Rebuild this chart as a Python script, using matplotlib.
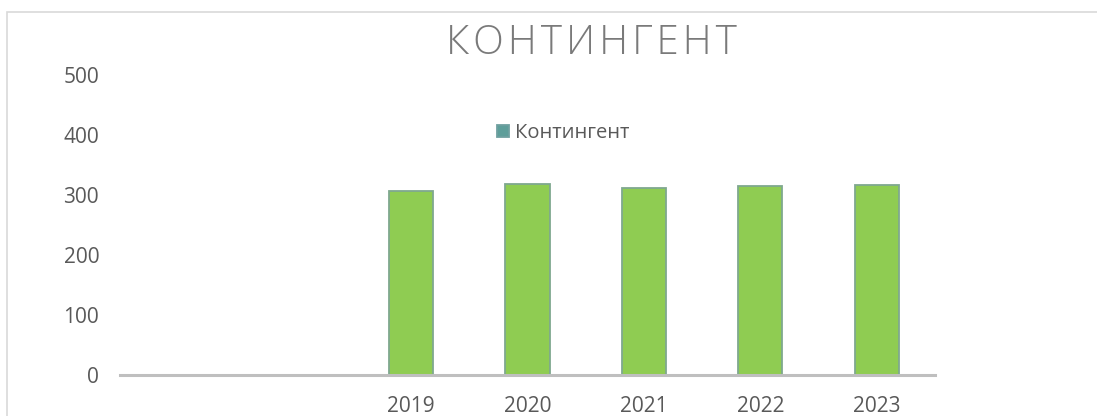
import matplotlib.pyplot as plt
from matplotlib.patches import Rectangle

plt.rcParams['font.family'] = ['Open Sans', 'DejaVu Sans']

# categories (first two are empty in the source chart)
years = ['', '', '2019', '2020', '2021', '2022', '2023']
values = [0, 0, 307, 319, 312, 315, 317]
title = 'КОНТИНГЕНТ'

fig = plt.figure(figsize=(10.97, 4.16), dpi=100)
ax = fig.add_axes([120 / 1097, 41 / 416, 815 / 1097, 300 / 416])

x = range(len(years))
ax.bar(x, values, width=0.38, color='#8FCC52', edgecolor='#7FA88F', linewidth=1.3,
       label='Контингент')

ax.set_xlim(-0.5, len(years) - 0.5)
ax.set_ylim(0, 500)
ax.set_yticks([0, 100, 200, 300, 400, 500])
ax.set_xticks(list(x))
ax.set_xticklabels(years)

for s in ['top', 'right', 'left']:
    ax.spines[s].set_visible(False)
ax.spines['bottom'].set_color('#BFBFBF')
ax.spines['bottom'].set_linewidth(2.2)
ax.tick_params(axis='both', length=0, labelsize=15, colors='#595959')
ax.tick_params(axis='y', pad=15)
ax.tick_params(axis='x', pad=15)

# spaced-out title (hair spaces between letters)
fig.text(591 / 1097, 1 - 44 / 416, '\u200a'.join(title), ha='center', va='center',
         fontsize=29, color='#7A7A7A', fontweight='light')

leg = ax.legend(loc='center', bbox_to_anchor=(563 / 1097, 1 - 133 / 416),
                bbox_transform=fig.transFigure, frameon=False, fontsize=14.5,
                handlelength=0.6, handleheight=0.6, handletextpad=0.3)
for t in leg.get_texts():
    t.set_color('#595959')
leg.legend_handles[0].set_facecolor('#5E9E9A')
leg.legend_handles[0].set_edgecolor('#6FA0A0')

# outer chart frame
fig.patches.append(Rectangle((7 / 1097, -0.1), 1.2, 1 - 12 / 416 + 0.1,
                             transform=fig.transFigure, fill=False,
                             edgecolor='#D9D9D9', linewidth=1.2))

plt.savefig('out.png')
